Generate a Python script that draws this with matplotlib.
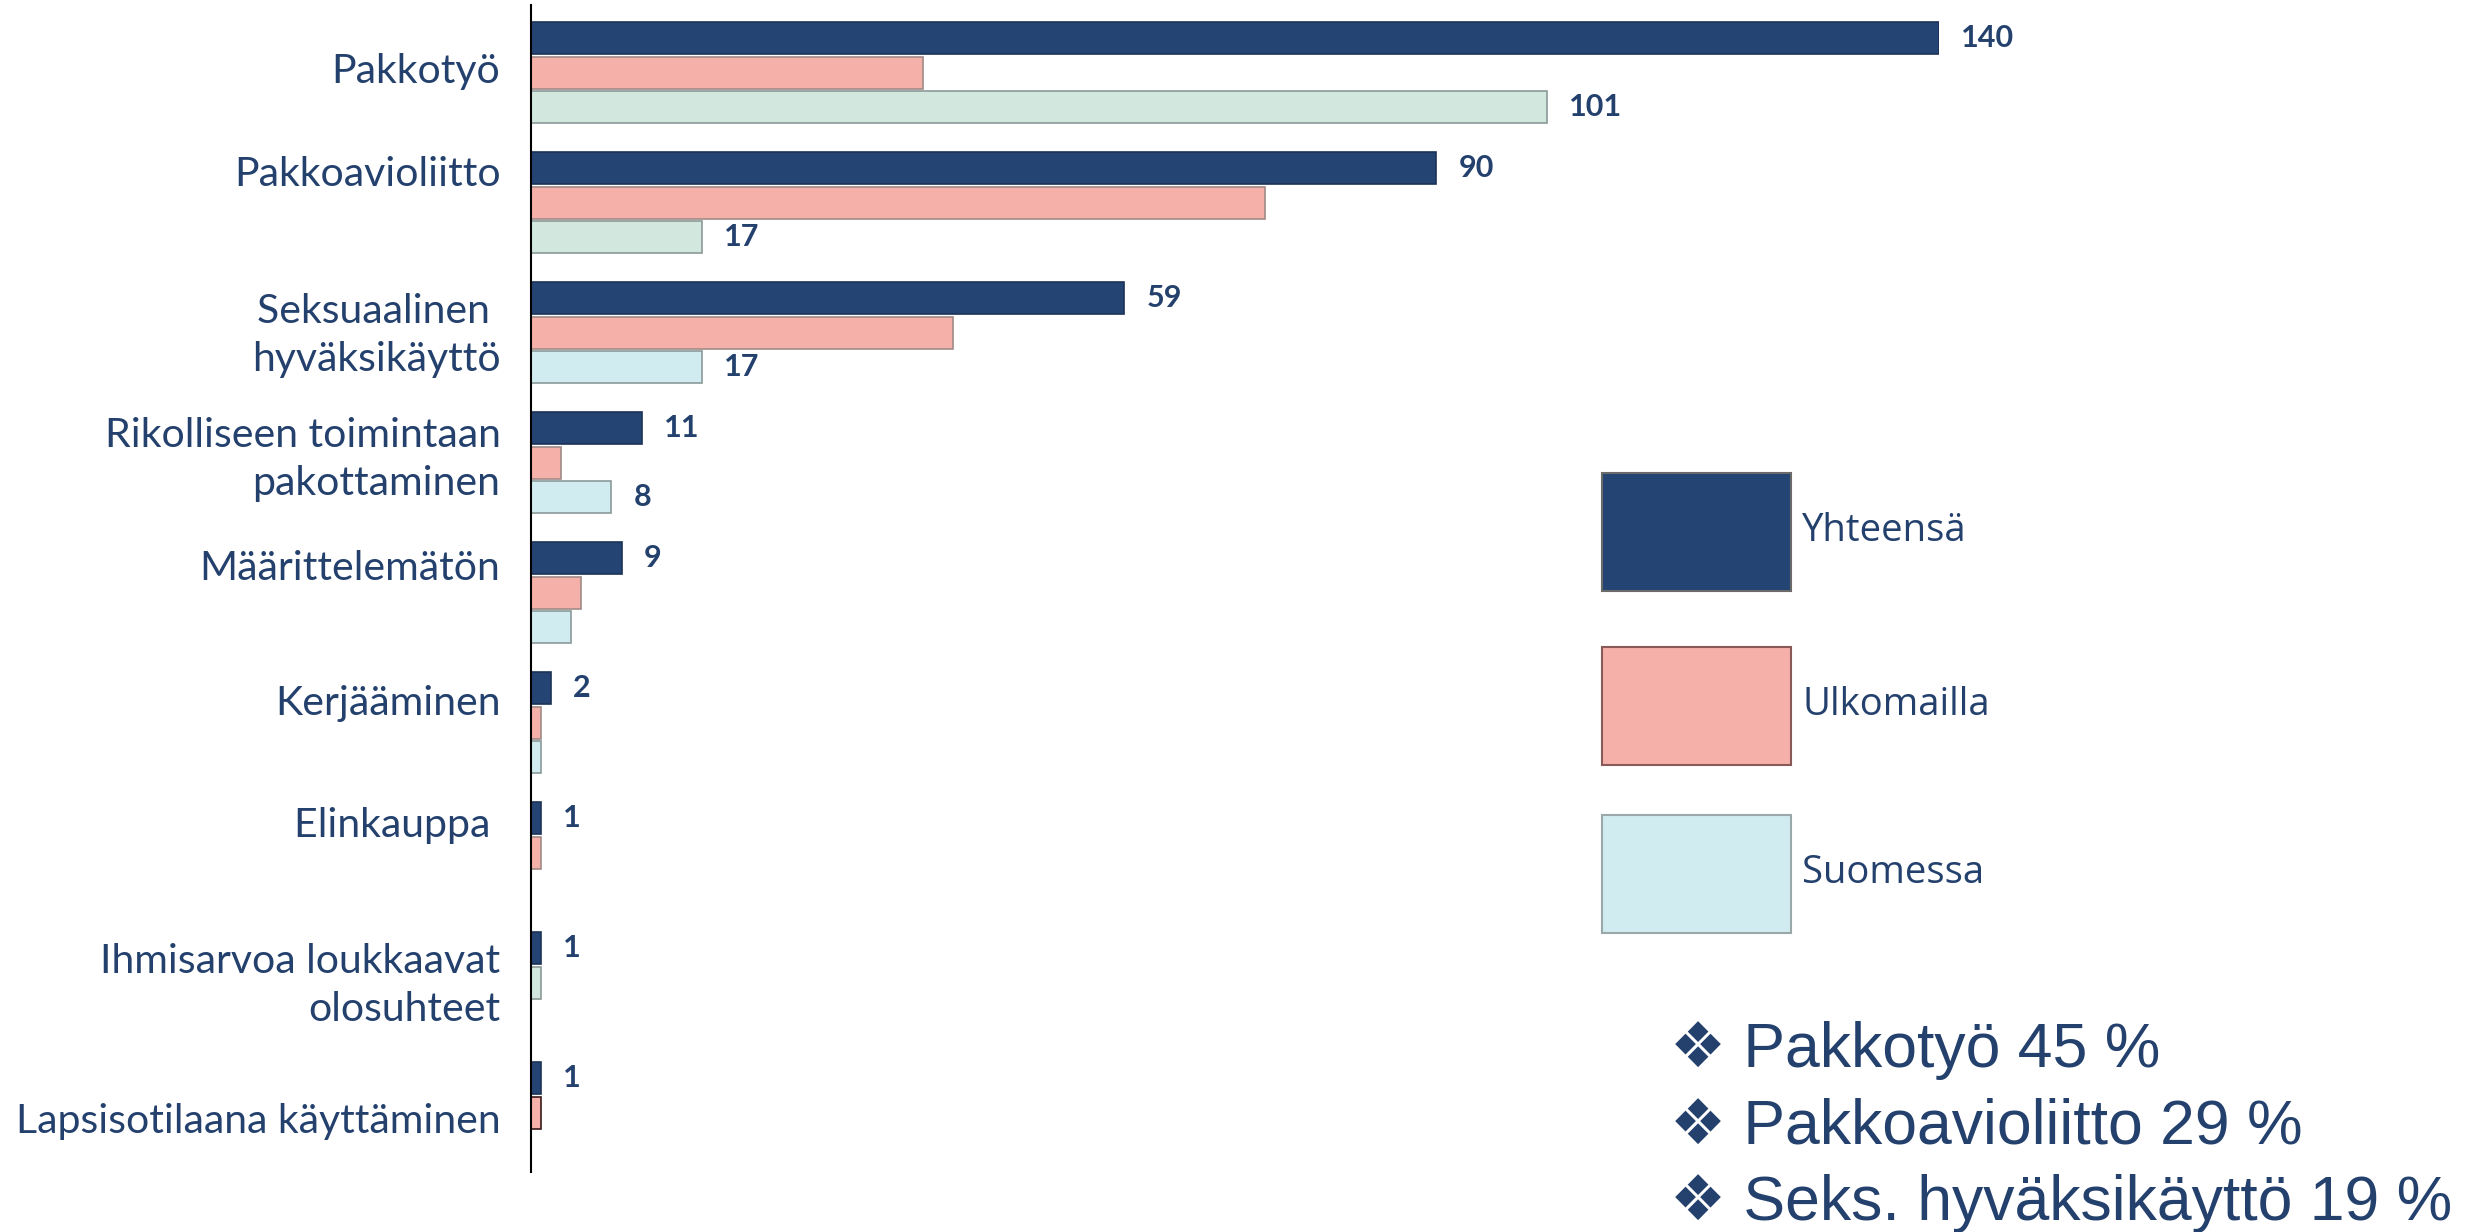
import matplotlib.pyplot as plt
from matplotlib.patches import Rectangle

# data
categories = ['Pakkotyö', 'Pakkoavioliitto', 'Seksuaalinen \nhyväksikäyttö',
              'Rikolliseen toimintaan\npakottaminen', 'Määrittelemätön', 'Kerjääminen',
              'Elinkauppa ', 'Ihmisarvoa loukkaavat\nolosuhteet', 'Lapsisotilaana käyttäminen']
yhteensa = [140, 90, 59, 11, 9, 2, 1, 1, 1]
ulkomailla = [39, 73, 42, 3, 5, 1, 1, 0, 1]
suomessa = [101, 17, 17, 8, 4, 1, 0, 1, 0]
series_names = ['Yhteensä', 'Ulkomailla', 'Suomessa']
highlights = ['Pakkotyö 45 %', 'Pakkoavioliitto 29 %', 'Seks. hyväksikäyttö 19 %']

# styles
W, H = 2484, 1232
navy = '#244474'
text_navy = '#24416e'
pink = '#f5b0a9'
cyan = '#d0ecf0'
green = '#d2e7de'
suomessa_colors = [green, green, cyan, cyan, cyan, cyan, cyan, green, cyan]
label_nudge = [-4, -31, -6, -12, -27, -22, -30, -6, 5]  # px, label vs group middle

fig = plt.figure(figsize=(W / 100, H / 100), dpi=100)
ax = fig.add_axes([531 / W, 1 - 1172 / H, 1408 / W, (1172 - 5) / H])

pitch = 130.0          # px between groups
slot = 34.5 / pitch    # px between bars in a group
bar_h = 32 / pitch

series = [yhteensa, ulkomailla, suomessa]
for i, cat in enumerate(categories):
    vals = [s[i] for s in series]
    fills = [navy, pink, suomessa_colors[i]]
    edges = ['#1c3358', '#a08a88', '#8a9a98']
    if i == len(categories) - 1:
        edges[1] = '#3a1a1a'
    j = 0
    for k, v in enumerate(vals):
        if v == 0:
            continue
        y = i + (j - 1) * slot
        ax.barh(y, v, height=bar_h, color=fills[k], edgecolor=edges[k], linewidth=1.2)
        if k == 0 or (k == 2 and v >= 5):
            ax.text(v + 2.2, y, str(v), va='center', ha='left', fontsize=22,
                    fontweight='bold', color=text_navy, family='Lato')
        j += 1

ax.set_xlim(0, 140)
ax.set_ylim((1172 - 72.5) / pitch, (5 - 72.5) / pitch)
ax.set_yticks([i + n / pitch for i, n in enumerate(label_nudge)])
ax.set_yticklabels(categories, fontsize=29.5, color=text_navy, family='Lato', linespacing=1.38)
ax.tick_params(axis='y', length=0, pad=22)
ax.set_xticks([])
for side in ['top', 'right', 'bottom']:
    ax.spines[side].set_visible(False)
ax.spines['left'].set_linewidth(1.5)
ax.spines['left'].set_color('black')
ax.set_facecolor('none')

# legend as big boxes
box_tops = [473, 647, 815]
leg_fills = [navy, pink, cyan]
leg_edges = ['#6a6a6a', '#8a5a58', '#9aa8aa']
for name, top, fc, ec in zip(series_names, box_tops, leg_fills, leg_edges):
    fig.add_artist(Rectangle((1602 / W, 1 - (top + 118) / H), 189 / W, 118 / H,
                             transform=fig.transFigure, facecolor=fc, edgecolor=ec,
                             linewidth=1.5))
    fig.text(1802 / W, 1 - (top + 58) / H, name, fontsize=27.5, color=text_navy,
             family='Open Sans', va='center', ha='left')

# summary bullets
for n, line in enumerate(highlights):
    fig.text(1670 / W, 1 - (1067 + 76.5 * n) / H, '\u2756 ' + line, fontsize=45,
             color=text_navy, family=['Liberation Sans', 'DejaVu Sans'],
             va='baseline', ha='left')

fig.savefig('out.png', dpi=100)
